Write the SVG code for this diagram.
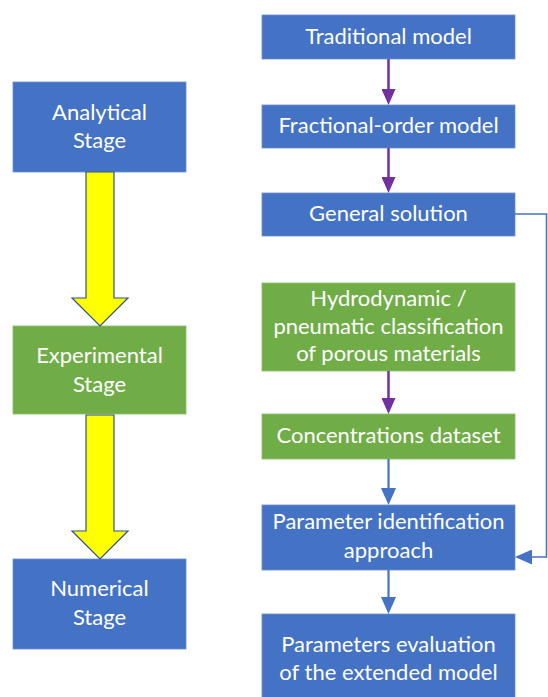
<svg xmlns="http://www.w3.org/2000/svg" width="548" height="697" viewBox="0 0 548 697">
<style>
.blue{fill:#4472C4;stroke:#6F8FD0;stroke-width:0.8}
.green{fill:#70AD47;stroke:#8CBF6A;stroke-width:0.8}
.t{font-family:Lato,"Open Sans","Liberation Sans",sans-serif;font-size:22px;fill:#FFFFFF;text-anchor:middle}
.yarrow{fill:#FFFF00;stroke:#2F528F;stroke-width:1.2;stroke-linejoin:miter}
.pl{stroke:#7030A0;stroke-width:2.5;fill:none}
.bl{stroke:#4472C4;stroke-width:2.2;fill:none}
.fb{stroke:#4472C4;stroke-width:1.6;fill:none}
</style>
<defs>
<marker id="hp" markerUnits="userSpaceOnUse" markerWidth="16" markerHeight="14" refX="0" refY="7" orient="auto" viewBox="0 0 16 14">
<path d="M0,0 L16,7 L0,14 z" fill="#7030A0"/>
</marker>
<marker id="hb" markerUnits="userSpaceOnUse" markerWidth="17" markerHeight="15" refX="0" refY="7.5" orient="auto" viewBox="0 0 17 15">
<path d="M0,0 L17,7.5 L0,15 z" fill="#4472C4"/>
</marker>
</defs>
<g id="analytical"><rect class="blue" x="13" y="82" width="173" height="90"/><text class="t" x="99.5" y="120">Analytical</text><text class="t" x="99.5" y="148">Stage</text></g>
<g id="experimental"><rect class="green" x="13" y="326" width="173" height="88"/><text class="t" x="99.5" y="363">Experimental</text><text class="t" x="99.5" y="392">Stage</text></g>
<g id="numerical"><rect class="blue" x="13" y="559" width="173" height="90"/><text class="t" x="99.5" y="596">Numerical</text><text class="t" x="99.5" y="625">Stage</text></g>
<g id="traditional"><rect class="blue" x="262" y="15" width="253" height="44"/><text class="t" x="388.5" y="44">Traditional model</text></g>
<g id="fractional"><rect class="blue" x="262" y="105" width="253" height="43"/><text class="t" x="388.5" y="133">Fractional-order model</text></g>
<g id="general"><rect class="blue" x="262" y="193" width="253" height="43"/><text class="t" x="388.5" y="221">General solution</text></g>
<g id="hydro"><rect class="green" x="262" y="283" width="253" height="88"/><text class="t" x="388.5" y="306">Hydrodynamic /</text><text class="t" x="388.5" y="334">pneumatic classification</text><text class="t" x="388.5" y="361">of porous materials</text></g>
<g id="concentrations"><rect class="green" x="262" y="414" width="253" height="45"/><text class="t" x="388.5" y="443">Concentrations dataset</text></g>
<g id="paramid"><rect class="blue" x="262" y="505" width="253" height="65"/><text class="t" x="388.5" y="529">Parameter identification</text><text class="t" x="388.5" y="558">approach</text></g>
<g id="parameval"><rect class="blue" x="262" y="614" width="253" height="86"/><text class="t" x="388.5" y="652">Parameters evaluation</text><text class="t" x="388.5" y="680">of the extended model</text></g>
<g id="connectors">
<polygon class="yarrow" points="86,172 114,172 114,298 128,298 100,326 72,298 86,298"/>
<polygon class="yarrow" points="86,415 114,415 114,531 128,531 100,559 72,531 86,531"/>
<line class="pl" x1="388.5" y1="59" x2="388.5" y2="89" marker-end="url(#hp)"/>
<line class="pl" x1="388.5" y1="148" x2="388.5" y2="177" marker-end="url(#hp)"/>
<line class="pl" x1="388.5" y1="371" x2="388.5" y2="398" marker-end="url(#hp)"/>
<line class="bl" x1="388.5" y1="459" x2="388.5" y2="488" marker-end="url(#hb)"/>
<line class="bl" x1="388.5" y1="570" x2="388.5" y2="597" marker-end="url(#hb)"/>
<polyline class="fb" points="515,214 546.5,214 546.5,557 532,557" marker-end="url(#hb)"/>
</g>
</svg>
